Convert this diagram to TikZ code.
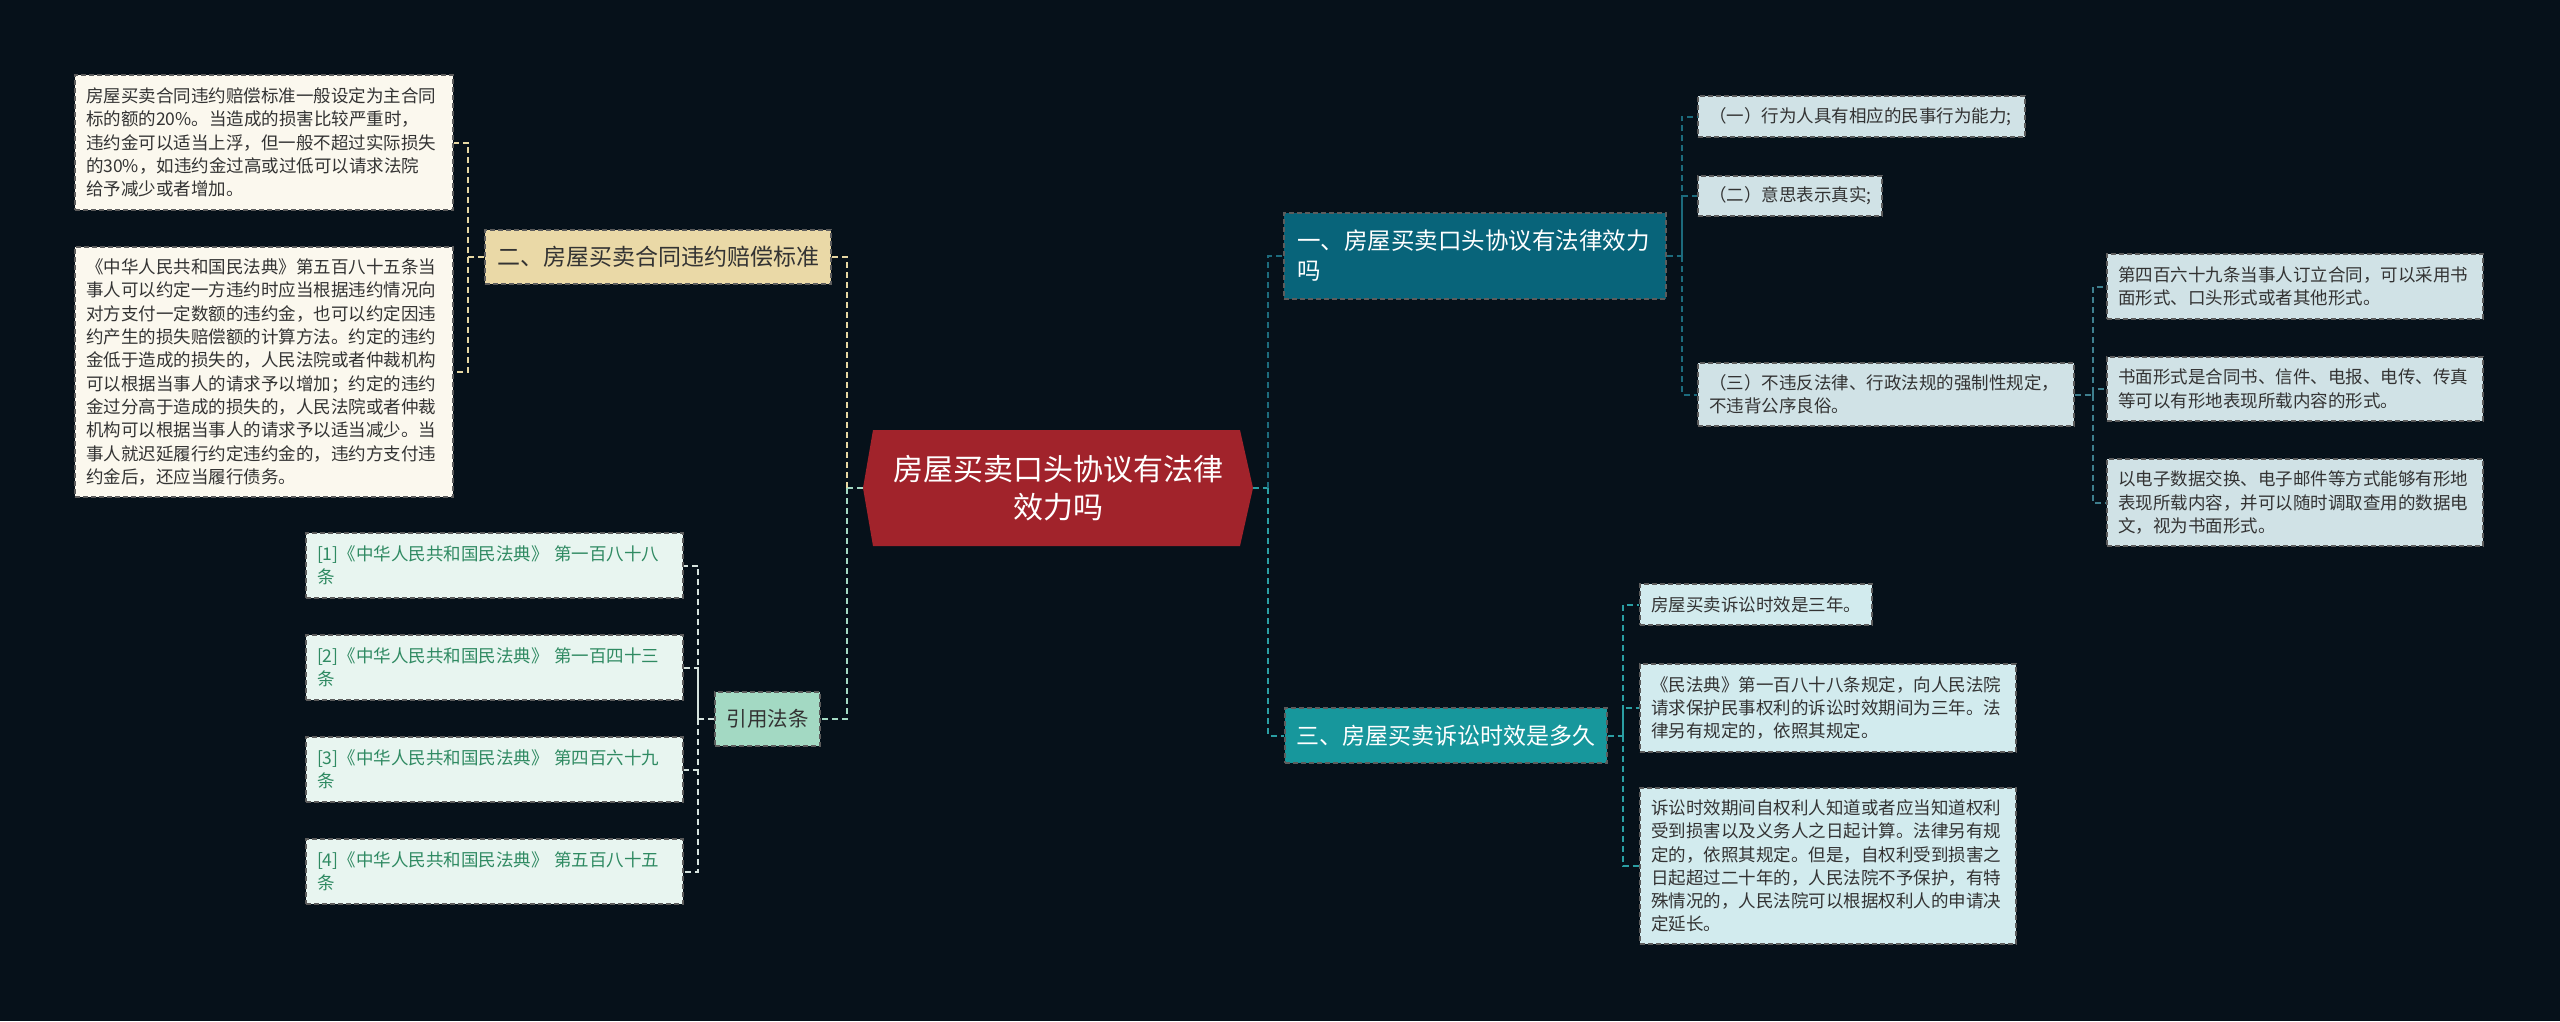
\documentclass[tikz,border=0pt]{standalone}
\usepackage{fontspec}
\setmainfont{Noto Sans CJK SC}
\usetikzlibrary{calc}
\definecolor{bg}{HTML}{06111A}
\definecolor{boxline}{HTML}{5C5C5C}
\definecolor{txt}{HTML}{333333}
\definecolor{creamfill}{HTML}{FBF8EE}
\definecolor{beigefill}{HTML}{EAD9A7}
\definecolor{mintfill}{HTML}{A3D9C3}
\definecolor{reffill}{HTML}{E8F5F0}
\definecolor{reftext}{HTML}{2F8A62}
\definecolor{greyblue}{HTML}{D0E2E6}
\definecolor{cyanfill}{HTML}{D2EBEE}
\definecolor{darkteal}{HTML}{08647A}
\definecolor{teal}{HTML}{17979C}
\definecolor{centerred}{HTML}{A1232B}
\definecolor{cbeige}{HTML}{E6D7A3}
\definecolor{cmint}{HTML}{A3D9C3}
\definecolor{cpale}{HTML}{D5E3DE}
\definecolor{cdark}{HTML}{1C6B7D}
\definecolor{csteel}{HTML}{3E7F8E}
\definecolor{cteal}{HTML}{2A9EA3}
\tikzset{
  lbox/.style={draw=boxline, dash pattern=on 5pt off 3pt, line width=1.2pt,
    rectangle, align=left, inner xsep=11pt, inner ysep=0pt,
    font=\fontsize{17.5}{23.3}\selectfont, text=txt},
  bigbox/.style={draw=boxline, dash pattern=on 5pt off 3pt, line width=1.2pt,
    rectangle, inner ysep=0pt, font=\fontsize{23}{30}\selectfont},
  conn/.style={line width=2pt, dash pattern=on 6pt off 4pt}
}
\begin{document}
\begin{tikzpicture}[x=1pt,y=-1pt]
\fill[bg] (0,0) rectangle (2560,1021);
\useasboundingbox (0,0) rectangle (2560,1021);

% bracket x positions
\coordinate (bA) at (468,0);
\coordinate (bL) at (847,0);
\coordinate (bRef) at (698,0);
\coordinate (bR) at (1268,0);
\coordinate (bOne) at (1682,0);
\coordinate (bThreeSub) at (2093,0);
\coordinate (bThree) at (1623,0);

% center
\fill[centerred] (863,488) -- (873,430) -- (1240,430) -- (1253,488) -- (1240,546) -- (873,546) -- cycle;
\node[minimum width=390pt, minimum height=116pt, inner sep=0pt, text width=370pt, align=center,
  font=\fontsize{30}{38}\selectfont, text=white] (center) at (1058,488)
  {房屋买卖口头协议有法律\\效力吗};

% left side
\node[bigbox, fill=beigefill, text=txt, inner xsep=12pt, text width=322pt, align=center, minimum height=54pt] (er) at (658,257)
  {二、房屋买卖合同违约赔偿标准};
\node[lbox, fill=creamfill, text width=356pt, minimum height=135pt] (A) at (264,142.5)
  {房屋买卖合同违约赔偿标准一般设定为主合同\\标的额的20\%。当造成的损害比较严重时，\\违约金可以适当上浮，但一般不超过实际损失\\的30\%，如违约金过高或过低可以请求法院\\给予减少或者增加。};
\node[lbox, fill=creamfill, text width=356pt, minimum height=250pt] (B) at (264,372)
  {《中华人民共和国民法典》第五百八十五条当\\事人可以约定一方违约时应当根据违约情况向\\对方支付一定数额的违约金，也可以约定因违\\约产生的损失赔偿额的计算方法。约定的违约\\金低于造成的损失的，人民法院或者仲裁机构\\可以根据当事人的请求予以增加；约定的违约\\金过分高于造成的损失的，人民法院或者仲裁\\机构可以根据当事人的请求予以适当减少。当\\事人就迟延履行约定违约金的，违约方支付违\\约金后，还应当履行债务。};

\node[bigbox, fill=mintfill, text=txt, inner xsep=11.5pt, text width=82pt, align=center, minimum height=54pt,
  font=\fontsize{20.5}{26}\selectfont] (yy) at (767.5,719) {引用法条};
\node[lbox, fill=reffill, text=reftext, text width=355pt, minimum height=65pt] (R1) at (494.5,565.5)
  {[1]《中华人民共和国民法典》 第一百八十八\\条};
\node[lbox, fill=reffill, text=reftext, text width=355pt, minimum height=65pt] (R2) at (494.5,667.5)
  {[2]《中华人民共和国民法典》 第一百四十三\\条};
\node[lbox, fill=reffill, text=reftext, text width=355pt, minimum height=65pt] (R3) at (494.5,769.5)
  {[3]《中华人民共和国民法典》 第四百六十九\\条};
\node[lbox, fill=reffill, text=reftext, text width=355pt, minimum height=65pt] (R4) at (494.5,871.5)
  {[4]《中华人民共和国民法典》 第五百八十五\\条};

% right side
\node[bigbox, fill=darkteal, text=white, inner xsep=13pt, text width=356pt, align=left, minimum height=86pt,
  font=\fontsize{23.5}{30}\selectfont] (one) at (1475,256)
  {一、房屋买卖口头协议有法律效力\\吗};
\node[lbox, fill=greyblue, text width=305pt, minimum height=41pt] (o1) at (1861.5,116.5)
  {（一）行为人具有相应的民事行为能力;};
\node[lbox, fill=greyblue, text width=162pt, minimum height=40pt] (o2) at (1790,196)
  {（二）意思表示真实;};
\node[lbox, fill=greyblue, text width=354pt, minimum height=63pt] (o3) at (1886,394.5)
  {（三）不违反法律、行政法规的强制性规定，\\不违背公序良俗。};
\node[lbox, fill=greyblue, text width=354pt, minimum height=65pt] (c1) at (2295,286.5)
  {第四百六十九条当事人订立合同，可以采用书\\面形式、口头形式或者其他形式。};
\node[lbox, fill=greyblue, text width=354pt, minimum height=64pt] (c2) at (2295,389)
  {书面形式是合同书、信件、电报、电传、传真\\等可以有形地表现所载内容的形式。};
\node[lbox, fill=greyblue, text width=354pt, minimum height=87pt] (c3) at (2295,502.5)
  {以电子数据交换、电子邮件等方式能够有形地\\表现所载内容，并可以随时调取查用的数据电\\文，视为书面形式。};

\node[bigbox, fill=teal, text=white, inner xsep=11.5pt, text width=299pt, align=center, minimum height=55pt] (three) at (1446,735.5)
  {三、房屋买卖诉讼时效是多久};
\node[lbox, fill=cyanfill, text width=210pt, minimum height=41pt] (s1) at (1756,604.5)
  {房屋买卖诉讼时效是三年。};
\node[lbox, fill=cyanfill, text width=354pt, minimum height=88pt] (s2) at (1828,708)
  {《民法典》第一百八十八条规定，向人民法院\\请求保护民事权利的诉讼时效期间为三年。法\\律另有规定的，依照其规定。};
\node[lbox, fill=cyanfill, text width=354pt, minimum height=156pt] (s3) at (1828,866)
  {诉讼时效期间自权利人知道或者应当知道权利\\受到损害以及义务人之日起计算。法律另有规\\定的，依照其规定。但是，自权利受到损害之\\日起超过二十年的，人民法院不予保护，有特\\殊情况的，人民法院可以根据权利人的申请决\\定延长。};

% connectors: left
\draw[conn, cmint] (center.west) -- (center.west -| bL);
\draw[conn, cbeige] (center.west -| bL) |- (er.east);
\draw[conn, cmint] (center.west -| bL) |- (yy.east);
\draw[conn, cbeige] (er.west) -- (er.west -| bA) |- (A.east);
\draw[conn, cbeige] (er.west -| bA) |- (B.east);
\draw[conn, cpale] (yy.west) -- (yy.west -| bRef) |- (R1.east);
\draw[conn, cpale] (yy.west -| bRef) |- (R2.east);
\draw[conn, cpale] (yy.west -| bRef) |- (R3.east);
\draw[conn, cpale] (yy.west -| bRef) |- (R4.east);

% connectors: right
\draw[conn, cteal] (center.east) -- (center.east -| bR);
\draw[conn, cdark] (center.east -| bR) |- (one.west);
\draw[conn, cteal] (center.east -| bR) |- (three.west);
\draw[conn, cdark] (one.east) -- (one.east -| bOne) |- (o1.west);
\draw[conn, cdark] (one.east -| bOne) |- (o2.west);
\draw[conn, cdark] (one.east -| bOne) |- (o3.west);
\draw[conn, csteel] (o3.east) -- (o3.east -| bThreeSub) |- (c1.west);
\draw[conn, csteel] (o3.east -| bThreeSub) |- (c2.west);
\draw[conn, csteel] (o3.east -| bThreeSub) |- (c3.west);
\draw[conn, cteal] (three.east) -- (three.east -| bThree) |- (s1.west);
\draw[conn, cteal] (three.east -| bThree) |- (s2.west);
\draw[conn, cteal] (three.east -| bThree) |- (s3.west);
\end{tikzpicture}
\end{document}
